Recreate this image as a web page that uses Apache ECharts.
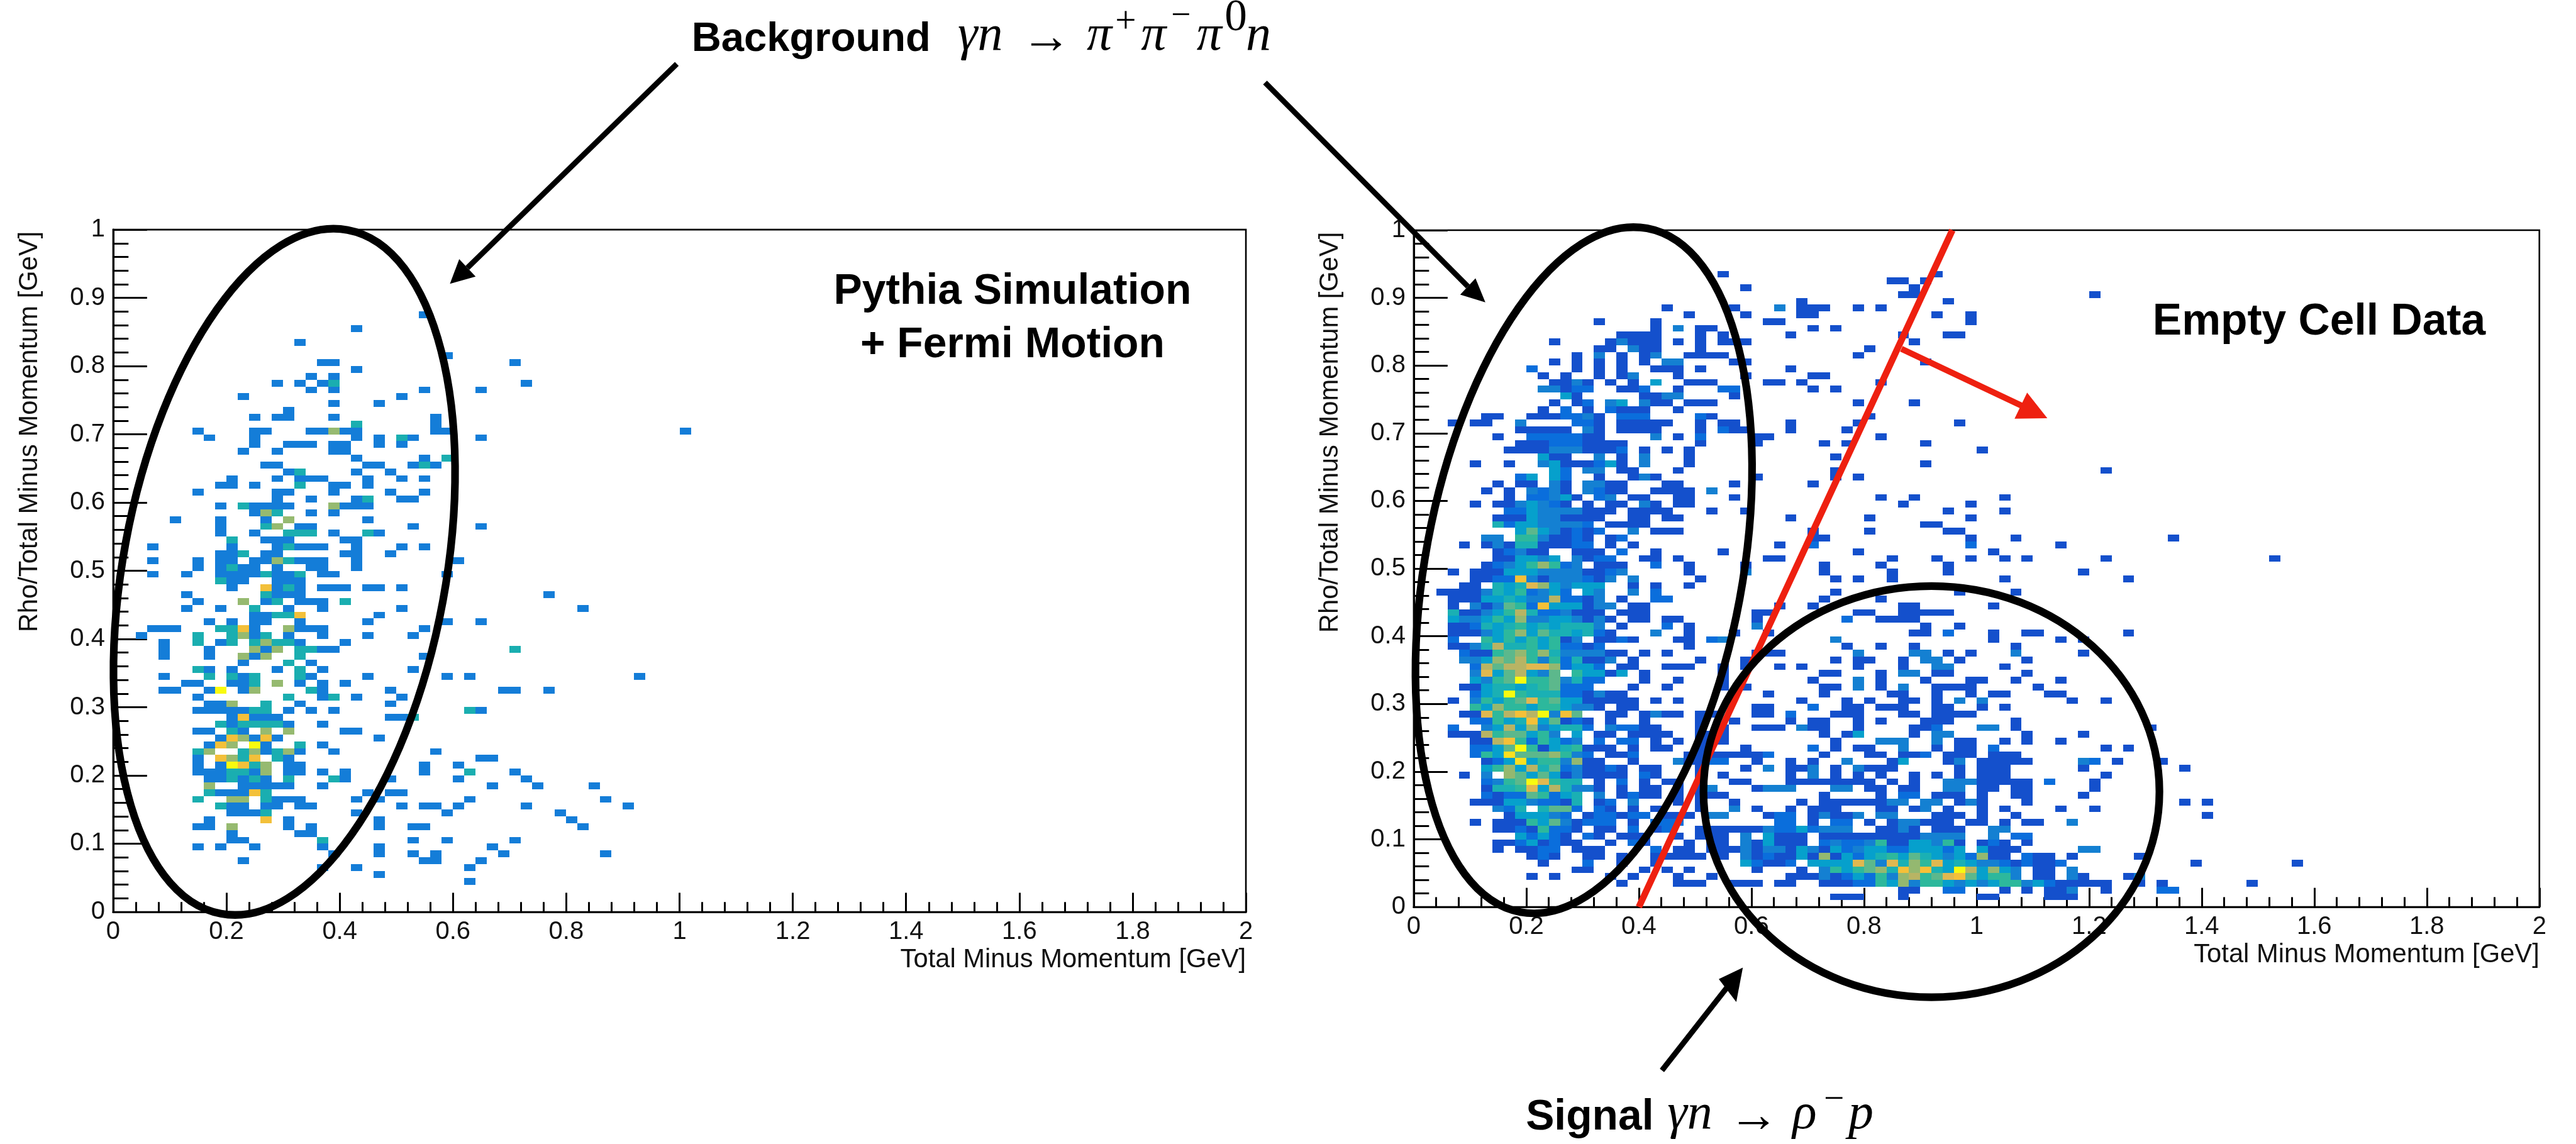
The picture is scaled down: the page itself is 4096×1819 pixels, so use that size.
<!DOCTYPE html>
<html><head><meta charset="utf-8">
<script src="https://cdn.jsdelivr.net/npm/echarts@6/dist/echarts.min.js"></script>
<style>html,body{margin:0;padding:0;background:#fff}#c{width:4096px;height:1819px}</style></head>
<body><div id="c"></div>
<script>
// Histogram bins: 100 x 100 over x 0..2 GeV and y 0..1 GeV
const xBinWidth = 0.02, yBinWidth = 0.01;
const xTicks = [0, 0.2, 0.4, 0.6, 0.8, 1, 1.2, 1.4, 1.6, 1.8, 2];
const yTicks = [0, 0.1, 0.2, 0.3, 0.4, 0.5, 0.6, 0.7, 0.8, 0.9, 1];
const xTitle = 'Total Minus Momentum [GeV]';
const yTitle = 'Rho/Total Minus Momentum [GeV]';
// each row: [yBin, xBin (count 1) or [xBin, count], ...]
const leftRows = [
[4,31],[5,23],[6,18,21,31],[7,11,27,28,32],[8,19,23,26,28,34,43],[9,7,9,12,18,23,33],
[10,10,11,[18,2],26,29,35],[11,10,16,17],[12,7,8,[10,3],15,17,23,26,27,41],[13,8,[13,4],15,23,40],
[14,10,11,12,[13,2],21,29,39],[15,[9,2],10,11,13,14,16,17,25,27,28,30,36,45],
[16,[7,2],[10,3],[11,3],[13,2],14,15,16,21,23,31,43],[17,[8,2],9,10,11,[12,4],[13,2],22,24,25],
[18,[8,3],11,12,13,14,15,18,33,37,42],[19,8,9,[10,2],11,[12,2],13,[15,2],[19,2],20,24,30,36],
[20,7,8,9,[10,2],[11,2],12,[13,3],15,16,18,20,27,[31,2],35],[21,7,9,[10,5],[11,4],[12,2],[13,3],15,16,27,30],
[22,7,[9,4],[10,3],[11,2],[12,4],[14,2],15,32,33],[23,[7,2],[8,3],[11,2],[12,3],13,[14,2],[15,3],16,19,28],
[24,8,[9,4],[10,3],[12,5],13,[16,2],18],[25,9,[10,4],[11,3],12,[13,4],14,23],
[26,7,8,[10,2],11,[13,3],[15,3],20,21],[27,[9,2],10,[11,2],[12,2],[13,2],[14,2],15,18],
[28,10,[11,4],12,13,14,24,25,[26,2]],[29,7,8,9,10,11,[12,2],[13,2],15,17,19,[31,2],32],
[30,8,9,[10,3],[13,2],16,24],[31,7,[15,2],18,[19,2],21,25],[32,4,5,8,[9,5],11,[12,3],[17,2],18,24,34,35,38],
[33,6,7,10,11,[12,2],[14,3],16,18,20],[34,4,[8,2],[10,2],11,[12,2],[16,2],17,22,29,31,46],
[35,[7,2],8,10,14,[16,2],18,26],[36,11,[15,2],17],[37,4,8,[11,3],12,[13,3],[16,2],27],
[38,4,8,[12,3],13,[14,3],[16,2],[17,2],18,19,[35,2]],[39,4,[7,2],9,[10,2],[12,2],[13,3],[14,2],[15,2],16,20],
[40,2,[7,2],[10,2],[11,3],12,[13,2],15,18,22,26],[41,3,4,5,[9,2],[10,2],[11,4],12,[15,3],16,17,18,27],
[42,8,10,12,13,16,22,29,32],[43,12,13,[14,2],[15,2],[16,4],23],[44,6,9,[12,2],15,18,25,41],
[45,7,[11,3],13,[14,2],16,17,18,[20,2]],[46,6,[13,2],14,15,16,38],[47,10,[13,4],14,[15,2],16,18,19,20,22,23,25],
[48,[9,2],10,11,14,15,16],[49,3,6,9,10,11,12,[13,2],14,15,[16,2],18,19,29],[50,7,9,[10,2],11,12,14,17,18,21],
[51,3,7,9,10,12,13,[14,3],[15,2],16,17,18,21,30],[52,9,10,[11,2],13,14,20,21,24],[53,3,10,14,[15,2],16,17,18,21,25,27],
[54,[10,2],13,14,15,20,21],[55,9,12,[15,2],[16,2],[17,2],19,[22,2],23],[56,9,[13,2],[14,3],16,17,26,32],
[57,5,9,13,[15,3],22],[58,12,[13,3],[14,2],17,19],[59,9,[11,2],12,13,14,15,[19,3],20,21,22],[60,14,17,21,[22,2],25,26],
[61,7,14,15,19,24,27],[62,9,10,12,[16,2],19,20,22],[63,10,14,16,17,18,22,25,27],[64,15,[16,2],21,24],
[65,13,14,22,23,26,[27,2],28],[66,21,27,[29,2]],[67,11,14,19,20],[68,12,15,16,17,19,20,23,25],
[69,8,12,21,23,[25,2],26,32],[70,7,12,13,17,18,[19,3],20,21,28,29,50],[71,[21,2],28],[72,12,14,15,19,28],[73,15],
[74,19,23],[75,11,25],[76,17,19,27,32],[77,14,16,18,[19,2],36],[78,17,19],[79,21],[80,18,19,35],[81,29],[83,16],[85,21],[87,27]
];
const rightRows = [
[1,37,38,39,43,50,51,56,57,58],
[2,43,44,[47,2],[48,2],52,54,56,57,[58,3],61,[66,2],[67,2]],
[3,18,23,24,25,28,29,30,32,33,36,37,38,[39,2],[40,2],[41,6],[42,4],[43,8],[44,3],[45,6],[46,6],[47,4],[48,3],[49,4],[50,3],[51,4],[52,6],[53,6],[54,3],[55,4],[56,2],57,58,59,60,61,64,66,74],
[4,10,12,17,19,23,26,33,34,35,[36,3],37,[38,2],[39,4],[40,2],[41,6],[42,3],[43,8],[44,9],[45,6],[46,7],[47,10],[48,11],[49,7],[50,4],[51,6],[52,6],[53,3],55,56,[58,3],59,63,[64,3]],
[5,14,15,20,22,24,30,34,[36,3],[37,6],[38,4],[39,6],[40,7],[41,8],[42,5],[43,11],[44,8],[45,11],[46,5],[47,4],[48,13],[49,9],[50,4],[51,8],[52,4],[53,3],55,56,[58,3]],
[6,11,[15,2],18,21,[29,4],[30,2],31,32,[33,2],[35,4],[36,4],[37,4],[38,4],[39,10],[40,7],[41,3],[42,10],[43,5],[44,8],[45,6],[46,10],[47,4],[48,5],[49,4],[50,3],[51,3],[52,2],53,[54,2],55,56,[57,2],69,78],
[7,10,[11,2],12,15,16,18,21,22,23,24,25,27,[29,3],30,[31,2],32,33,[34,4],35,[36,8],37,[38,4],[39,2],[40,4],[41,5],[42,6],[43,4],[44,7],[45,5],[46,4],[47,3],[48,4],[49,2],[50,8],51,52,[54,2],55,56,58,64],
[8,7,9,10,[11,2],[12,2],14,15,16,[21,2],23,24,26,27,28,[29,3],30,[31,3],[32,3],33,[34,4],[35,3],36,[37,4],[38,2],[39,3],[40,4],[41,4],[42,2],[43,2],[44,4],[45,4],[46,4],[47,2],[48,4],[50,4],51,52,53,[59,3],[60,3]],
[9,7,8,[9,2],[10,4],11,[12,2],13,14,17,[19,2],20,24,26,27,[29,3],30,[31,4],32,33,34,[36,2],[37,3],[38,2],[39,2],[40,3],[41,6],42,43,[44,4],[45,4],[46,3],[47,6],48,50,[51,2],52,54],
[10,[9,4],[10,2],[11,4],[12,2],13,[15,2],16,18,19,20,23,25,26,27,[29,3],[31,4],32,33,34,36,37,38,39,40,41,42,43,44,[45,3],[46,3],[47,3],[48,3],[51,3],[53,2],[54,2]],
[11,7,8,[9,2],10,[11,6],[12,2],[13,2],14,16,17,[19,2],21,[22,2],25,26,27,28,29,30,[31,3],[32,2],[33,2],[34,4],[35,2],[36,3],[37,3],[38,3],41,42,[43,3],44,46,47,48,[51,3],[52,3]],
[12,5,7,8,9,[10,6],[11,4],[12,7],[13,3],14,[15,2],[16,2],[17,2],19,[21,2],[22,2],[23,2],[32,2],[33,2],35,[37,2],[38,2],40,42,[43,3],[44,3],45,46,47,49,50,52,54,55,[58,3]],
[13,8,[9,4],[10,4],[11,4],[12,3],[13,2],15,[16,2],[17,2],18,[19,2],[20,2],22,23,24,[26,3],[27,3],31,[32,2],[33,2],35,[36,3],37,38,[39,3],[41,3],[42,3],46,47,48,50,53,70],
[14,[7,3],[8,2],[9,5],[11,5],[12,7],[13,7],[14,2],[16,2],17,19,21,25,[28,3],30,33,35,36,37,41,42,44,[45,3],47,50,52,57,60],
[15,5,6,7,[8,4],[9,4],[10,3],[11,2],[12,2],13,[14,5],16,[17,2],[19,3],23,25,28,34,36,37,38,39,40,41,[42,3],[43,3],[45,3],[46,3],48,[49,3],50,54,68,70],
[16,[6,2],7,[8,2],[9,2],[10,7],[11,6],[12,2],[13,4],[14,5],[16,3],18,[19,2],20,21,23,25,26,27,36,41,[43,2],[44,2],46,47,48,50,53,54,59],
[17,6,[7,5],[8,5],[9,6],[10,10],[11,4],[12,9],[13,5],[14,3],[15,3],16,18,20,21,23,25,[26,3],30,[31,3],[32,3],[33,3],[37,3],[38,3],40,41,43,44,[47,3],[48,3],50,51,53,54,60],
[18,[6,2],[7,3],[8,6],[9,7],[10,13],[11,10],[12,6],[13,5],[14,5],16,[18,2],20,22,23,25,28,29,33,34,35,36,37,38,39,40,42,44,[47,3],[48,3],[49,3],50,51,52,53,54,[56,2],60],
[19,4,[6,3],[8,8],[9,7],[10,4],[11,7],[12,4],13,[14,3],15,16,17,18,[20,2],21,25,27,33,[35,3],37,39,41,44,46,48,50,51,52,61],
[20,[6,4],[7,6],[8,8],[9,4],[10,9],[11,5],[12,7],[13,2],[14,3],15,16,[17,2],18,20,21,25,29,[31,3],33,34,[35,3],37,[39,3],40,41,42,48,50,51,52,59,68],
[21,6,[7,2],[8,4],[9,12],[10,4],[11,6],[12,6],[13,3],[14,8],15,16,19,[23,3],24,25,[26,2],[27,2],30,33,35,[38,3],42,[43,4],47,[48,3],50,51,52,53,54,[59,3],[60,2],62,66],
[22,[5,2],[6,6],[7,4],[8,12],[9,7],[10,7],[11,7],[12,8],[13,6],[14,3],[15,2],17,18,[19,2],24,25,26,27,28,29,30,[31,2],36,40,41,43,44,[45,2],47,48,49,51,52,53],
[23,[5,2],[6,2],[7,4],[8,7],[9,13],[10,6],11,[12,4],[13,5],[14,6],15,16,17,19,21,22,25,29,[35,2],37,39,40,[43,3],46,48,49,[51,2],61,63],
[24,5,6,[7,9],[8,11],[9,6],[10,2],[11,6],[12,4],[13,2],[14,3],[16,2],[18,2],[19,2],21,23,25,26,27,37,[41,3],[42,3],[43,3],[46,3],48,49,52,54,57],
[25,3,4,5,[6,9],[7,6],[8,7],[9,7],[10,4],[11,6],[12,3],[14,4],16,17,19,20,21,22,25,26,27,36,38,[39,4],44,[46,3],[47,3],54,59],
[26,[3,2],[6,3],[7,4],[8,9],[9,4],[10,8],[11,3],[12,4],[13,5],[14,5],[15,2],[17,3],[18,2],[19,2],20,21,25,27,30,31,32,[34,3],35,36,39,44,45,[46,2],[50,3],[51,3],53,65],
[27,[5,2],[6,2],[7,6],[8,4],[9,5],[10,11],[11,4],[12,7],13,[14,2],15,17,20,25,28,33,35,36,39,41,45,46,47,53],
[28,4,5,[6,10],[7,6],[8,9],[9,11],[10,9],[11,13],[12,3],[13,11],[14,7],17,18,20,[21,3],22,23,25,26,30,31,[33,2],37,38,39,43,44,46,47,48,49],
[29,[5,6],[6,4],[7,8],[8,6],[9,6],[10,4],[11,6],[12,6],[13,4],[14,3],[15,3],16,18,19,30,31,[35,2],38,39,41,42,43,46,47,50,52],
[30,3,[5,3],[6,6],[7,4],[8,6],[9,7],[10,10],[11,6],[12,7],[13,4],[14,4],15,16,17,18,19,21,23,34,38,40,43,44,46,[48,3],[50,3],58,61],
[31,[5,2],[6,4],[7,5],[8,13],[9,6],[10,5],[11,5],[12,5],[13,2],[14,2],15,[16,3],17,18,31,36,42,43,46,49,51,52,56,57],
[32,4,5,[6,4],[7,5],[8,5],[9,4],[10,5],[11,6],[12,7],[13,2],[14,2],[15,2],19,22,27,29,36,37,[39,3],41,[43,3],46,47,48,49,55],
[33,[5,4],[6,3],[7,6],[8,7],[9,13],[10,6],[11,6],[12,7],[13,3],[14,5],[15,2],[16,2],20,23,27,35,[39,3],41,45,49,50,53,57],
[34,[5,3],[6,10],[7,4],[8,7],[9,9],[10,4],[11,3],[12,7],[14,6],[15,4],[16,4],17,[18,4],20,27,36,37,41,[43,3],[44,3],46,47,54],
[35,[5,2],[6,9],[7,7],[8,9],[9,9],[10,10],[11,10],[12,8],[13,2],[14,4],[15,4],[16,2],18,19,22,23,24,27,29,32,34,39,43,[46,3],[47,3],52],
[36,[4,3],[5,3],[6,4],[7,8],[8,7],[9,9],[10,6],[11,3],[12,6],[13,2],[14,5],15,16,[17,3],19,25,29,37,39,40,43,[45,3],[46,3],48,54],
[37,[4,2],5,6,[7,6],[8,7],[9,8],[10,6],[11,8],[12,5],[13,3],[14,3],[15,3],[16,3],17,18,20,22,30,31,32,[39,3],[44,3],[45,3],47,49,[53,3],59],
[38,3,4,[5,3],[6,5],[7,9],[8,5],[9,5],[10,6],[11,4],[12,6],[13,2],[14,2],15,[16,2],24,38,41,44,53],
[39,[3,2],[6,6],[7,4],[8,6],[9,4],[10,6],[11,4],[12,6],13,[14,3],16,17,[18,2],19,23,24,[26,2],[27,3],[37,3],51,57,59],
[40,3,4,5,[6,3],[7,4],[8,6],[9,8],[10,4],[11,7],[12,5],[13,5],[14,4],[15,5],[16,2],17,[21,3],24,28,31,44,45,[47,2],51,54,55,63],
[41,3,4,[5,2],[6,5],[7,4],[8,5],[9,6],[10,4],[11,5],[12,4],[13,5],[14,5],[15,5],[16,3],18,[22,2],24,[30,3],45,48],
[42,[3,4],[4,3],[5,3],[6,4],[7,6],[8,4],[9,8],[10,3],[11,3],[12,4],[13,4],[14,3],15,[16,3],17,19,20,22,23,30,[38,2],41,42,43,44],
[43,[3,5],4,5,[6,3],[7,4],[8,6],[9,9],[10,5],[11,2],[12,2],[13,3],14,15,16,18,19,20,30,31,39,40,43,44,45,46,47],
[44,3,[5,3],6,[7,3],[8,7],[9,6],[10,2],[11,11],[12,4],[13,4],[14,4],15,[16,3],[17,3],19,20,32,35,43,44,51],
[45,3,4,5,[6,4],[7,4],[8,5],[9,4],[10,3],[11,3],[12,9],[13,2],[14,2],15,[16,3],18,[21,2],[22,2],36,41],
[46,2,3,4,5,[6,3],[7,5],[8,4],[9,6],[10,2],[11,3],[12,4],[13,2],[15,4],[16,3],[19,3],[21,2],37,48,53],
[47,4,5,[7,5],[8,4],[9,5],[10,10],[11,8],[12,4],[13,3],[14,4],[15,4],[16,4],19,21,24],
[48,5,6,[7,2],[8,2],[9,11],[10,3],11,[12,3],[13,3],[14,3],[15,2],16,[17,3],[19,3],25,37,39,42,52,63],
[49,3,5,6,7,[8,4],[9,4],[10,4],[11,3],[12,3],[13,3],[14,3],15,16,[17,2],[18,3],24,[29,3],36,42,47,59],
[50,6,[7,2],[8,3],[9,4],[10,6],[11,8],[12,6],[13,2],[14,3],16,17,18,[21,2],24,29,36,41,47],
[51,7,8,[9,4],[10,4],[11,3],[12,4],[14,3],15,[16,2],[17,2],20,21,23,31,32,42,46,49,52,54,61,76],
[52,7,[8,2],[9,3],10,11,14,15,16,[18,2],21,27,39,51],
[53,4,6,[7,3],8,[9,5],[10,5],11,12,13,[14,2],[15,2],17,19,32,[35,2],[49,2],57],
[54,[6,3],[7,3],[9,6],[10,6],[11,3],12,13,[14,2],15,17,[18,2],35,36,49,53,67],
[55,[9,4],[10,7],[11,4],[12,3],13,[14,2],15,[16,2],[19,3],21,22,23,35,40,47,48],
[56,[7,5],[8,2],[9,4],[10,4],[11,3],[12,3],[13,3],[14,3],[15,2],17,18,19,20,45,46],
[57,7,8,9,[10,4],[11,3],[12,3],13,14,15,16,19,20,22,23,33,40,49],
[58,[8,2],[9,2],[10,4],[11,3],[12,3],[13,3],[14,3],15,16,17,19,20,21,22,26,29,47,52],
[59,5,7,8,[9,3],[10,4],[11,3],[12,2],13,15,17,18,[20,3],21,23,24,43,49],
[60,8,[10,2],[11,2],[12,3],[13,4],14,[16,2],[17,3],19,20,23,24,28,41,44,52],
[61,6,8,[10,3],[11,2],[12,3],13,[15,3],[16,2],17,18,21,22,23,24,[26,3]],
[62,7,9,10,[12,3],13,[15,3],[16,3],17,18,22,23,28,35],
[63,[9,2],[10,4],[12,4],[13,2],16,19,[20,3],21,30,37,39],
[64,[12,4],[13,2],[15,3],[16,3],18,19,23,37,61],
[65,5,8,[11,3],[12,4],13,14,15,[16,2],[17,4],18,[20,3],24,45],
[66,[11,4],12,13,[16,3],18,[20,3],24,37],
[67,8,9,10,11,[12,3],[13,3],[14,3],15,16,17,[18,2],20,22,24,50],
[68,9,10,11,[12,2],[13,2],[14,2],15,16,17,18,25,30,36,38,45],
[69,7,[10,2],[11,2],[12,2],[13,2],[14,2],15,16,[21,3],23,[25,2],30,31,41],
[70,9,10,11,12,13,[15,3],16,18,19,20,21,25,[27,2],28,29,33,38],
[71,3,5,6,[9,3],[14,2],[15,2],16,18,19,20,21,22,25,27,28,33,39,48],
[72,6,7,10,11,12,[13,2],[14,2],[15,3],16,[18,2],[19,2],[20,2],[25,2],26,40],
[73,11,[13,2],15,[17,2],18,19,20,23],
[74,12,14,[15,2],[17,3],[18,4],[20,3],21,22,24,25,26,39,44],
[75,[13,4],14,20,21,[22,3],[23,3],28],
[76,[11,3],[12,3],13,[14,2],[15,2],18,19,[20,2],23,[27,2],[28,2],35,37],
[77,12,13,[14,3],15,17,19,[21,4],24,25,26,31,32,34,41],
[78,11,13,16,18,[19,3],23,29,35,36],
[79,[10,2],14,16,18,21,22,23,25,33],
[80,12,14,16,18,20,[22,3],[23,3],28,29,45],
[81,14,[16,3],18,20,[21,3],24,25,26,27,39],
[82,16,17,[19,3],20,21,25,40],
[83,12,17,[18,3],19,20,21,23,25,27,28,29,44],
[84,18,19,20,21,25,27,33,43,47,48],
[85,21,[23,3],25,26,35,37],
[86,16,21,31,32,49],
[87,24,29,34,35,46,49],
[88,22,28,[32,3],34,35,36,39,41],
[89,34,47],[90,43,44,60],[91,29,44],[92,42,43,45],[93,27,46]
];
// red selection boundary, in axis units
const cutX = [0.4, 0.957];
const cutY = [0, 1];
// colour per bin count
const leftColors = [null,'#147dd8','#1aaeb0','#96ba70','#f3c03a','#f8fa0e'];
const rightColors = [null,'#1450cc','#0a6edc','#1480d2','#06a0cc','#1ab0b4','#2db89c','#5cb88c','#94b870','#b8b464','#e0b850','#f5c038','#fbe020','#f8fa10'];

const S = 4096 / 4712;
const px = v => v * S;
const cells = rows => { const out = [];
  for (const r of rows) { const y = r[0] * yBinWidth;
    for (let i = 1; i < r.length; i++) { const e = r[i];
      const col = Array.isArray(e) ? e[0] : e, n = Array.isArray(e) ? e[1] : 1;
      out.push([col * xBinWidth, y, n]); } }
  return out; };
const cellRenderer = colors => (params, api) => {
  const x = api.value(0), y = api.value(1);
  const a = api.coord([x, y + yBinWidth]), b = api.coord([x + xBinWidth, y]);
  const x0 = Math.round(a[0]), y0 = Math.round(a[1]);
  return { type: 'rect', shape: { x: x0, y: y0, width: Math.round(b[0]) - x0, height: Math.round(b[1]) - y0 },
    style: { fill: colors[api.value(2)] } };
};
const tickStyle = { color: '#000', width: px(3.5) };
const labelStyle = { color: '#111', fontFamily: 'Liberation Sans', fontSize: px(46) };
const nameFont = { color: '#111', fontFamily: 'Liberation Sans', fontSize: px(48) };
const tickText = v => String(+v.toFixed(1));
const xAxisOf = i => ({ type: 'value', gridIndex: i, min: 0, max: 2, interval: 0.2, name: xTitle, nameLocation: 'end', nameGap: 0,
  nameTextStyle: { ...nameFont, align: 'right', verticalAlign: 'top', padding: [px(64), 0, 0, 0] },
  axisLine: { show: true, onZero: false, lineStyle: { color: '#000', width: px(3.5) } },
  axisTick: { show: true, inside: true, length: px(35), lineStyle: tickStyle },
  minorTick: { show: true, splitNumber: 5, length: px(18), lineStyle: tickStyle },
  splitLine: { show: false }, minorSplitLine: { show: false },
  axisLabel: { ...labelStyle, margin: px(14), formatter: tickText } });
const yAxisOf = i => ({ type: 'value', gridIndex: i, min: 0, max: 1, interval: 0.1, name: yTitle, nameLocation: 'end', nameGap: px(-3), nameRotate: 90,
  nameTextStyle: { ...nameFont, align: 'right', verticalAlign: 'bottom', padding: [0, 0, px(128), 0] },
  axisLine: { show: true, onZero: false, lineStyle: { color: '#000', width: px(3.5) } },
  axisTick: { show: true, inside: true, length: px(62), lineStyle: tickStyle },
  minorTick: { show: true, splitNumber: 5, length: px(28), lineStyle: tickStyle },
  splitLine: { show: false }, minorSplitLine: { show: false },
  axisLabel: { ...labelStyle, margin: px(15), padding: [px(8), 0, 0, 0], formatter: tickText } });

// annotation drawing, in reference pixels
const oval = (cx, cy, rx, ry, deg) => ({ type: 'ellipse', x: px(cx), y: px(cy), rotation: -deg * Math.PI / 180, silent: true, z: 50,
  shape: { cx: 0, cy: 0, rx: px(rx), ry: px(ry) }, style: { fill: null, stroke: '#000', lineWidth: px(14) } });
const seg = (x1, y1, x2, y2, color, w) => ({ type: 'line', silent: true, z: 51, shape: { x1: px(x1), y1: px(y1), x2: px(x2), y2: px(y2) }, style: { stroke: color, lineWidth: px(w) } });
const tri = (pts, color) => ({ type: 'polygon', silent: true, z: 51, shape: { points: pts.map(p => [px(p[0]), px(p[1])]) }, style: { fill: color } });
const txt = (str, x, base, size, font, align, family) => ({ type: 'text', silent: true, z: 60, x: px(x), y: px(base - 0.345 * size),
  style: { text: str, fill: '#000', font: `${font} ${px(size)}px "${family || (font.includes('italic') ? 'Liberation Serif' : 'Liberation Sans')}"`, align: align || 'left', verticalAlign: 'middle' } });
const B = 'bold', M = 'italic', R = 'normal', SERIF = 'Liberation Serif';
const annotations = [
  oval(520, 1046, 295, 636, 10.5), oval(2897, 1043, 290, 636, 10.5), oval(3533, 1448, 417, 376, 0),
  seg(1238, 117, 855, 490, '#000', 10), tri([[823, 519], [840, 474], [870, 506]], '#000'),
  seg(2314, 151, 2685, 524, '#000', 10), tri([[2717, 553], [2699, 509], [2671, 539]], '#000'),
  seg(3040, 1958, 3160, 1805, '#000', 10), tri([[3188, 1770], [3144, 1791], [3176, 1833]], '#000'),
  seg(3478, 638, 3700, 743, '#ee2010', 11), tri([[3745, 765], [3708, 718], [3685, 766]], '#ee2010'),
  txt('Background', 1265, 98, 75, B),
  txt('γn', 1752, 98, 92, M), txt('→', 1868, 104, 92, R, null, SERIF), txt('π', 1988, 98, 92, M),
  txt('+', 2040, 64, 68, R, null, SERIF), txt('π', 2087, 98, 92, M), txt('−', 2142, 52, 64, R, null, SERIF),
  txt('π', 2189, 98, 92, M), txt('0', 2240, 62, 82, R, null, SERIF), txt('n', 2279, 98, 92, M),
  txt('Signal', 2791, 2071, 78, B),
  txt('γn', 3050, 2071, 92, M), txt('→', 3162, 2077, 92, R, null, SERIF), txt('ρ', 3279, 2071, 92, M),
  txt('−', 3336, 2036, 66, R, null, SERIF), txt('p', 3381, 2071, 92, M),
  txt('Pythia Simulation', 1852, 561, 78, B, 'center'), txt('+ Fermi Motion', 1852, 659, 78, B, 'center'),
  txt('Empty Cell Data', 4242, 617, 80, B, 'center')
];

const chart = echarts.init(document.getElementById('c'), null, { renderer: 'canvas' });
chart.setOption({
  backgroundColor: '#fff', animation: false,
  grid: [
    { left: px(207), top: px(420), width: px(2072), height: px(1248), show: true, borderColor: '#000', borderWidth: px(3), backgroundColor: 'transparent' },
    { left: px(2586), top: px(421), width: px(2059), height: px(1238), show: true, borderColor: '#000', borderWidth: px(3), backgroundColor: 'transparent' }
  ],
  xAxis: [xAxisOf(0), xAxisOf(1)],
  yAxis: [yAxisOf(0), yAxisOf(1)],
  series: [
    { type: 'custom', name: 'Pythia Simulation + Fermi Motion', xAxisIndex: 0, yAxisIndex: 0, data: cells(leftRows), renderItem: cellRenderer(leftColors), encode: { x: 0, y: 1 } },
    { type: 'custom', name: 'Empty Cell Data', xAxisIndex: 1, yAxisIndex: 1, data: cells(rightRows), renderItem: cellRenderer(rightColors), encode: { x: 0, y: 1 } },
    { type: 'line', name: 'Selection cut', xAxisIndex: 1, yAxisIndex: 1, data: cutX.map((x, i) => [x, cutY[i]]), symbol: 'none', z: 20, clip: false, lineStyle: { color: '#ee2010', width: px(12), cap: 'butt' } }
  ],
  graphic: { elements: annotations }
});
</script></body></html>
